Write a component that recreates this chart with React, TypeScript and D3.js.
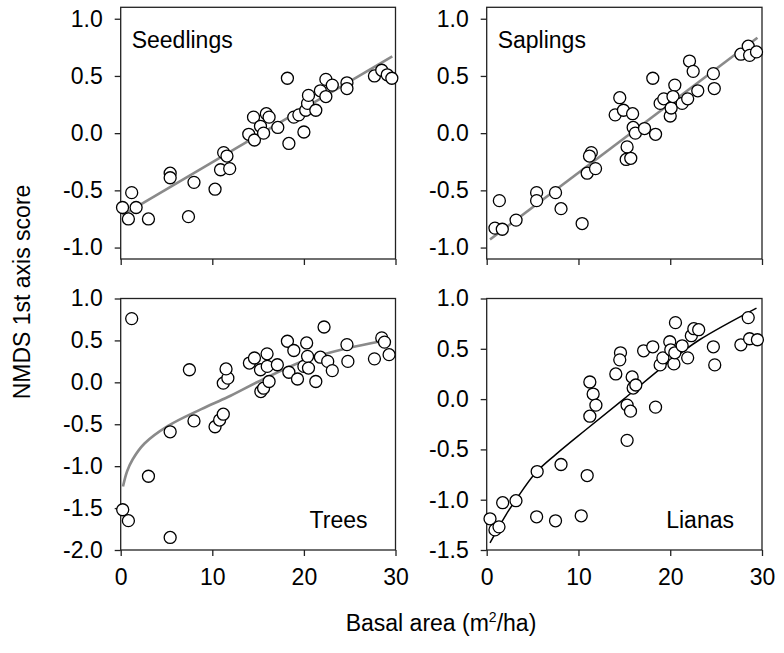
import * as d3 from "d3";
import { useEffect, useRef } from "react";

type Pt = [number, number];

// axis ticks
const xTicks = [0, 10, 20, 30];
const topYTicks = [-1.0, -0.5, 0.0, 0.5, 1.0];
const treesYTicks = [-2.0, -1.5, -1.0, -0.5, 0.0, 0.5, 1.0];
const lianasYTicks = [-1.5, -1.0, -0.5, 0.0, 0.5, 1.0];

// basal area (m2/ha), NMDS 1st axis score
const seedlings: Pt[] = [
  [0.2, -0.65], [0.84, -0.75], [1.2, -0.52], [1.68, -0.65], [3.03, -0.75],
  [5.4, -0.35], [5.4, -0.39], [7.4, -0.73], [8.0, -0.43], [10.3, -0.49],
  [10.9, -0.32], [11.24, -0.17], [11.6, -0.2], [11.9, -0.31], [13.98, -0.01],
  [14.5, 0.14], [14.6, -0.06], [15.26, 0.06], [15.6, 0.0], [15.9, 0.17],
  [16.2, 0.14], [17.15, 0.05], [18.2, 0.48], [18.36, -0.09], [18.9, 0.14],
  [19.45, 0.16], [20.0, 0.01], [20.2, 0.2], [20.4, 0.26], [20.5, 0.33],
  [21.3, 0.2], [21.8, 0.37], [22.4, 0.47], [22.4, 0.32], [23.1, 0.42],
  [24.7, 0.44], [24.7, 0.39], [27.7, 0.5], [28.5, 0.55], [29.1, 0.51],
  [29.6, 0.48],
];

const saplings: Pt[] = [
  [0.9, -0.83], [1.38, -0.59], [1.7, -0.84], [3.2, -0.76], [5.44, -0.52],
  [5.44, -0.59], [7.5, -0.52], [8.1, -0.66], [10.4, -0.79], [10.95, -0.35],
  [11.4, -0.17], [11.2, -0.2], [11.86, -0.31], [14.0, 0.16], [14.5, 0.31],
  [14.9, 0.2], [15.3, -0.12], [15.2, -0.23], [15.7, -0.22], [15.9, 0.17],
  [15.96, 0.05], [16.2, 0.0], [17.2, 0.04], [18.1, 0.48], [18.4, -0.01],
  [18.9, 0.26], [19.3, 0.3], [20.0, 0.15], [20.1, 0.22], [20.5, 0.42],
  [20.3, 0.32], [21.3, 0.26], [21.9, 0.3], [22.1, 0.63], [22.5, 0.54],
  [23.0, 0.37], [24.7, 0.52], [24.8, 0.39], [27.7, 0.69], [28.5, 0.76],
  [28.65, 0.68], [29.4, 0.71],
];

const trees: Pt[] = [
  [0.22, -1.52], [0.84, -1.65], [1.2, 0.76], [3.03, -1.12], [5.4, -0.59],
  [5.4, -1.85], [7.5, 0.15], [8.0, -0.46], [10.3, -0.53], [10.8, -0.45],
  [11.2, -0.38], [11.2, -0.01], [11.7, 0.05], [11.5, 0.16], [14.05, 0.23],
  [14.6, 0.29], [15.26, 0.15], [15.3, -0.11], [15.6, -0.07], [15.98, 0.34],
  [16.2, 0.01], [16.0, 0.19], [17.1, 0.21], [18.2, 0.49], [18.36, 0.12],
  [18.9, 0.38], [19.3, 0.04], [20.0, 0.19], [20.3, 0.47], [20.4, 0.31],
  [20.5, 0.17], [21.3, 0.01], [21.8, 0.3], [22.2, 0.66], [22.6, 0.25],
  [23.1, 0.14], [24.7, 0.45], [24.8, 0.25], [27.7, 0.28], [28.5, 0.53],
  [28.8, 0.48], [29.3, 0.33],
];

const lianas: Pt[] = [
  [0.36, -1.19], [0.9, -1.3], [1.34, -1.27], [1.74, -1.03], [3.19, -1.01],
  [5.5, -0.72], [5.44, -1.17], [7.5, -1.21], [8.1, -0.65], [10.3, -1.16],
  [10.95, -0.76], [11.24, 0.17], [11.6, 0.05], [11.9, -0.06], [11.24, -0.17],
  [14.07, 0.25], [14.58, 0.46], [14.5, 0.39], [15.3, -0.06], [15.67, -0.12],
  [15.3, -0.41], [15.85, 0.22], [15.96, 0.11], [16.25, 0.14], [17.1, 0.48],
  [18.1, 0.52], [18.4, -0.08], [18.9, 0.34], [19.2, 0.41], [19.95, 0.57],
  [20.06, 0.49], [20.4, 0.35], [20.57, 0.76], [20.5, 0.46], [21.3, 0.53],
  [21.9, 0.41], [22.3, 0.63], [22.57, 0.7], [23.1, 0.69], [24.7, 0.52],
  [24.85, 0.34], [27.7, 0.54], [28.5, 0.81], [28.65, 0.6], [29.5, 0.59],
];

// fitted curves
const seedlingsFit: Pt[] = [[0.2, -0.716], [29.65, 0.672]];
const saplingsFit: Pt[] = [[0.36, -0.93], [29.5, 0.834]];
const treesFit: Pt[] = [
  [0.25, -1.243], [0.7, -1.06], [1.3, -0.92], [2.6, -0.73], [5.17, -0.52],
  [8.8, -0.32], [11.7, -0.175], [15.0, 0.007], [20.0, 0.258], [24.7, 0.405],
  [28.75, 0.496],
];
const lianasFit: Pt[] = [
  [0.36, -1.43], [2.1, -1.15], [3.19, -1.0], [5.36, -0.73], [7.54, -0.55],
  [10.8, -0.305], [14.8, -0.01], [19.6, 0.35], [23.2, 0.59], [29.4, 0.905],
];

const W = 784;
const H = 653;
const FONT = "Arial, 'Liberation Sans', sans-serif";

const App = () => {
  const svgRef = useRef<SVGSVGElement | null>(null);

  useEffect(() => {
    if (!svgRef.current) return;
    const svg = d3.select(svgRef.current);
    svg.selectAll("*").remove();

    // panel frames (px)
    const cols = [
      [120.7, 395.5],
      [486.7, 762],
    ];
    const rows = [
      [7.3, 259],
      [298.5, 550],
    ];

    const panels = [
      { label: "Seedlings", pts: seedlings, fit: seedlingsFit, yDomain: [-1.1, 1.1], yTicks: topYTicks, col: 0, row: 0, fitColor: "#8a8a8a", fitWidth: 2.6, labelPos: "top" },
      { label: "Saplings", pts: saplings, fit: saplingsFit, yDomain: [-1.1, 1.1], yTicks: topYTicks, col: 1, row: 0, fitColor: "#8a8a8a", fitWidth: 2.6, labelPos: "top" },
      { label: "Trees", pts: trees, fit: treesFit, yDomain: [-2, 1], yTicks: treesYTicks, col: 0, row: 1, fitColor: "#8a8a8a", fitWidth: 2.6, labelPos: "bottom" },
      { label: "Lianas", pts: lianas, fit: lianasFit, yDomain: [-1.5, 1], yTicks: lianasYTicks, col: 1, row: 1, fitColor: "#000", fitWidth: 1.5, labelPos: "bottom" },
    ];

    const axisColor = "#222";

    panels.forEach((p) => {
      const [x0, x1] = cols[p.col];
      const [y0, y1] = rows[p.row];
      const xScale = d3.scaleLinear().domain([0, 30]).range([x0, x1]);
      const yScale = d3.scaleLinear().domain(p.yDomain).range([y1, y0]);
      const g = svg.append("g");

      // frame
      g.append("rect")
        .attr("x", x0)
        .attr("y", y0)
        .attr("width", x1 - x0)
        .attr("height", y1 - y0)
        .attr("fill", "none")
        .attr("stroke", axisColor)
        .attr("stroke-width", 1.3);

      // y ticks
      const yAxis = g
        .append("g")
        .attr("transform", `translate(${x0},0)`)
        .call(
          d3
            .axisLeft(yScale)
            .tickValues(p.yTicks)
            .tickSize(6)
            .tickPadding(12)
            .tickFormat((d) => (+d).toFixed(1))
        );
      yAxis.select(".domain").remove();
      yAxis.selectAll("line").attr("stroke", axisColor).attr("stroke-width", 1.3);
      yAxis
        .selectAll("text")
        .attr("font-family", FONT)
        .attr("font-size", 23)
        .attr("fill", "#000");

      // x ticks
      const xAxis = g
        .append("g")
        .attr("transform", `translate(0,${y1})`)
        .call(
          d3
            .axisBottom(xScale)
            .tickValues(xTicks)
            .tickSize(6)
            .tickPadding(13)
            .tickFormat((d) => (p.row === 1 ? String(d) : ""))
        );
      xAxis.select(".domain").remove();
      xAxis.selectAll("line").attr("stroke", axisColor).attr("stroke-width", 1.3);
      xAxis
        .selectAll("text")
        .attr("font-family", FONT)
        .attr("font-size", 23)
        .attr("fill", "#000");

      // fitted line
      const line = d3
        .line<Pt>()
        .x((d) => xScale(d[0]))
        .y((d) => yScale(d[1]))
        .curve(d3.curveCatmullRom.alpha(0.5));
      g.append("path")
        .datum(p.fit)
        .attr("fill", "none")
        .attr("stroke", p.fitColor)
        .attr("stroke-width", p.fitWidth)
        .attr("d", line);

      // points
      g.selectAll(".pt")
        .data(p.pts)
        .enter()
        .append("circle")
        .attr("cx", (d) => xScale(d[0]))
        .attr("cy", (d) => yScale(d[1]))
        .attr("r", 6)
        .attr("fill", "#fff")
        .attr("stroke", "#000")
        .attr("stroke-width", 1.3);

      // panel label
      if (p.labelPos === "top") {
        g.append("text")
          .attr("x", x0 + 11)
          .attr("y", y0 + 41)
          .attr("font-family", FONT)
          .attr("font-size", 23)
          .text(p.label);
      } else {
        g.append("text")
          .attr("x", x1 - 28)
          .attr("y", y1 - 22)
          .attr("text-anchor", "end")
          .attr("font-family", FONT)
          .attr("font-size", 23)
          .text(p.label);
      }
    });

    // axis titles
    svg
      .append("text")
      .attr("transform", `translate(30,${292}) rotate(-90)`)
      .attr("text-anchor", "middle")
      .attr("font-family", FONT)
      .attr("font-size", 23)
      .text("NMDS 1st axis score");

    const xt = svg
      .append("text")
      .attr("x", 441)
      .attr("y", 631)
      .attr("text-anchor", "middle")
      .attr("font-family", FONT)
      .attr("font-size", 23);
    xt.append("tspan").text("Basal area (m");
    xt.append("tspan").attr("font-size", 14).attr("dy", -9).text("2");
    xt.append("tspan").attr("dy", 9).text("/ha)");
  }, []);

  return (
    <svg
      ref={svgRef}
      width={W}
      height={H}
      style={{ position: "absolute", left: 0, top: 0, background: "#fff" }}
    />
  );
};

export default App;
